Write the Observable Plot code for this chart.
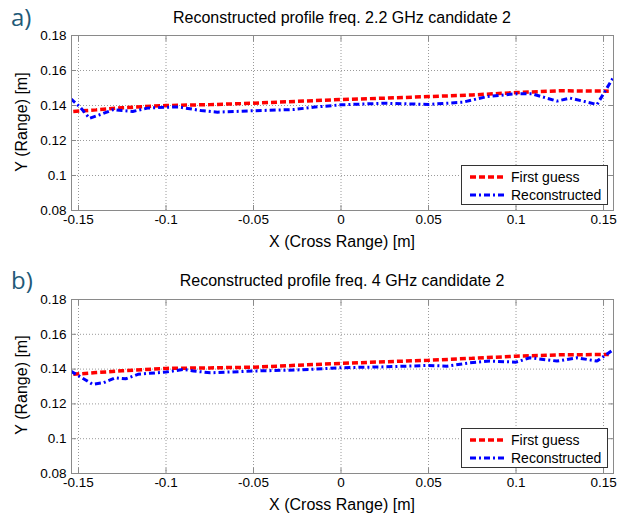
<!DOCTYPE html>
<html>
<head>
<meta charset="utf-8">
<script src="https://cdn.jsdelivr.net/npm/d3@7"></script>
<script src="https://cdn.jsdelivr.net/npm/@observablehq/plot@0.6"></script>
<style>
  html, body { margin: 0; padding: 0; background: #fff; }
  #wrap { position: relative; width: 630px; height: 522px; font-family: "Liberation Sans", Arial, sans-serif; color: #000; }
  .panel { position: absolute; left: 0; }
  .tag { position: absolute; left: 11px; font-family: "Open Sans", "Noto Sans", sans-serif; font-size: 24px; color: #1f5a78; line-height: 34px; height: 34px; }
  .title { position: absolute; left: 71px; width: 542px; text-align: center; font-size: 16px; line-height: 20px; }
  .xlab { position: absolute; left: 71px; width: 542px; text-align: center; font-size: 16px; line-height: 20px; }
  .ylab { position: absolute; width: 200px; text-align: center; font-size: 16px; line-height: 20px; transform: rotate(-90deg); transform-origin: center center; }
  .legend { position: absolute; left: 461px; width: 145px; height: 38px; border: 1px solid #333; background: #fff; font-size: 14px; }
  .legend .row { position: absolute; left: 8px; height: 18px; display: flex; align-items: center; }
  .legend svg { margin-right: 5px; }
</style>
</head>
<body>
<div id="wrap"></div>
<script>
// ---- data ----
const xTicks = [-0.15, -0.1, -0.05, 0, 0.05, 0.1, 0.15];
const yTicks = [0.08, 0.1, 0.12, 0.14, 0.16, 0.18];
const xDomain = [-0.154, 0.1557];
const yDomain = [0.08, 0.18];

const titles = ["Reconstructed profile freq. 2.2 GHz candidate 2", "Reconstructed profile freq. 4 GHz candidate 2"];
const tags = ["a)", "b)"];
const seriesNames = ["First guess", "Reconstructed"];
const xLabel = "X (Cross Range) [m]";
const yLabel = "Y (Range) [m]";

// First guess (both panels share x positions)
const guessX = [-0.153, -0.14, -0.125, -0.1, -0.075, -0.05, -0.025, 0, 0.025, 0.05, 0.075, 0.1, 0.125, 0.153];
const guessY1 = [0.1366, 0.1375, 0.1387, 0.1400, 0.1405, 0.1413, 0.1424, 0.1434, 0.1442, 0.1451, 0.1460, 0.1474, 0.1484, 0.1482];
const guessY2 = [0.1370, 0.1380, 0.1390, 0.1404, 0.1407, 0.1411, 0.1422, 0.1433, 0.1442, 0.1451, 0.1462, 0.1474, 0.1482, 0.1484];

// Reconstructed, panel a
const recX1 = [-0.1545, -0.149, -0.1437, -0.137, -0.130, -0.125, -0.119, -0.1106, -0.1, -0.093, -0.080, -0.0706, -0.05, -0.027, -0.016, 0, 0.025, 0.05, 0.0697, 0.0834, 0.1, 0.109, 0.1234, 0.1309, 0.1463, 0.1557];
const recY1 = [0.1440, 0.1390, 0.1327, 0.1350, 0.1377, 0.1371, 0.1366, 0.1385, 0.1390, 0.1392, 0.1371, 0.1362, 0.1370, 0.1377, 0.1390, 0.1404, 0.1413, 0.1406, 0.1419, 0.1451, 0.1467, 0.1467, 0.1425, 0.1442, 0.1406, 0.1562];

// Reconstructed, panel b
const recX2 = [-0.1545, -0.148, -0.142, -0.1357, -0.129, -0.1231, -0.116, -0.1106, -0.1, -0.09, -0.0843, -0.0746, -0.0617, -0.05, -0.025, 0, 0.025, 0.05, 0.0606, 0.0737, 0.0851, 0.1, 0.108, 0.1234, 0.1349, 0.1463, 0.1557];
const recY2 = [0.1389, 0.1350, 0.1313, 0.1322, 0.1350, 0.1344, 0.1370, 0.1375, 0.1383, 0.1398, 0.1389, 0.1379, 0.1384, 0.1389, 0.1395, 0.1408, 0.1413, 0.1421, 0.1417, 0.1436, 0.1446, 0.1440, 0.1465, 0.1446, 0.1465, 0.1446, 0.1513];

const panels = [
  {top: 0, guessY: guessY1, recX: recX1, recY: recY1},
  {top: 263, guessY: guessY2, recX: recX2, recY: recY2}
];

const RED = "#ff0000", BLUE = "#0000ff";
const redDash = "6,3", blueDash = "6,3,2,3";

const wrap = document.getElementById("wrap");
const fmt = d => String(d);

panels.forEach((p, i) => {
  const guess = guessX.map((x, k) => ({x, y: p.guessY[k]}));
  const rec = p.recX.map((x, k) => ({x, y: p.recY[k]}));
  const chart = Plot.plot({
    width: 630, height: 255,
    marginTop: 35 + (i ? 1 : 0), marginBottom: 45, marginLeft: 71, marginRight: 17,
    x: {domain: xDomain},
    y: {domain: yDomain},
    style: {fontFamily: "'Liberation Sans', Arial, sans-serif", fontSize: "13.5px", color: "#000", background: "transparent"},
    marks: [
      Plot.gridX(xTicks, {stroke: "#9a9a9a", strokeOpacity: 1, strokeDasharray: "1,2"}),
      Plot.gridY(yTicks, {stroke: "#9a9a9a", strokeOpacity: 1, strokeDasharray: "1,2"}),
      Plot.line(guess, {x: "x", y: "y", stroke: RED, strokeWidth: 3.5, strokeDasharray: redDash, strokeLinecap: "butt", strokeLinejoin: "miter", clip: true}),
      Plot.line(rec, {x: "x", y: "y", stroke: BLUE, strokeWidth: 3, strokeDasharray: blueDash, strokeLinecap: "butt", strokeLinejoin: "miter", clip: true}),
      Plot.frame({stroke: "#8a8a8a"}),
      Plot.axisX(xTicks, {anchor: "bottom", tickSize: 0, tickPadding: 4, tickFormat: fmt, label: null}),
      Plot.axisX(xTicks, {anchor: "bottom", tickSize: -5, tickFormat: () => "", label: null, stroke: "#8a8a8a"}),
      Plot.axisX(xTicks, {anchor: "top", tickSize: -5, tickFormat: () => "", label: null, stroke: "#8a8a8a"}),
      Plot.axisY(yTicks, {anchor: "left", tickSize: 0, tickPadding: 5, tickFormat: fmt, label: null}),
      Plot.axisY(yTicks, {anchor: "left", tickSize: -5, tickFormat: () => "", label: null, stroke: "#8a8a8a"}),
      Plot.axisY(yTicks, {anchor: "right", tickSize: -5, tickFormat: () => "", label: null, stroke: "#8a8a8a"})
    ]
  });
  chart.classList.add("panel");
  chart.style.top = p.top + "px";
  wrap.appendChild(chart);

  const tag = document.createElement("div");
  tag.className = "tag"; tag.textContent = tags[i];
  tag.style.top = (p.top + 0) + "px";
  wrap.appendChild(tag);

  const title = document.createElement("div");
  title.className = "title"; title.textContent = titles[i];
  title.style.top = (p.top + 8) + "px";
  wrap.appendChild(title);

  const xl = document.createElement("div");
  xl.className = "xlab"; xl.textContent = xLabel;
  xl.style.top = (p.top + 232) + "px";
  wrap.appendChild(xl);

  const yl = document.createElement("div");
  yl.className = "ylab"; yl.textContent = yLabel;
  yl.style.left = (22 - 100) + "px";
  yl.style.top = (p.top + 122 - 10) + "px";
  wrap.appendChild(yl);

  const lg = document.createElement("div");
  lg.className = "legend";
  lg.style.top = (p.top + 165) + "px";
  [[RED, redDash, 3.5], [BLUE, blueDash, 3]].forEach(([c, dash, w], k) => {
    const row = document.createElement("div");
    row.className = "row";
    row.style.top = (2 + k * 18) + "px";
    row.innerHTML = `<svg width="36" height="10"><line x1="0" y1="5" x2="36" y2="5" stroke="${c}" stroke-width="${w}" stroke-dasharray="${dash}"/></svg><span>${seriesNames[k]}</span>`;
    lg.appendChild(row);
  });
  wrap.appendChild(lg);
});
</script>
</body>
</html>
